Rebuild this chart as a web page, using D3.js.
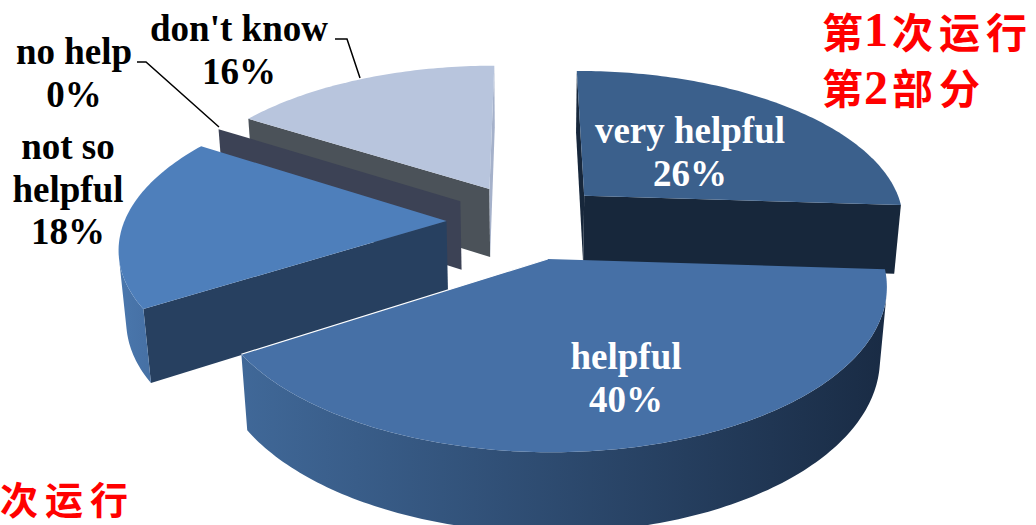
<!DOCTYPE html>
<html><head><meta charset="utf-8">
<script src="https://cdn.jsdelivr.net/npm/d3@7/dist/d3.min.js"></script>
<style>html,body{margin:0;padding:0;background:#fff;overflow:hidden}svg{display:block}
text{font-family:"Liberation Serif",serif;font-weight:700}
.cjk{font-family:"Noto Sans CJK SC",sans-serif;fill:#ff0000;font-weight:700}
.num{font-family:"Liberation Serif",serif;fill:#ff0000;font-weight:700}</style>
</head><body><svg id="c" width="1036" height="525"></svg>
<script>
// data
const categories = ["very helpful","helpful","not so helpful","no help","don't know"];
const shares = [26,40,18,0,16];
const pctLabels = ["26%","40%","18%","0%","16%"];
// styles per category
const topColors  = ["#3b608c","#4670a6","#4e7fbb","#3b4154","#b8c5dd"];
const wallColors = ["#17273b","#17273b","#274060","#3c4255","#4b5259"];
const endWallColors = ["#17273b","#17273b","#274060","#3c4255","#a5b1ca"];
const outerFrom  = ["#1d3450","#406898","#4a77ad","#3c4255","#aebcd6"];
const outerTo    = ["#1b2f4a","#192b44","#3f6596","#3c4255","#aebcd6"];
const labelColors= ["#fff","#fff","#000","#000","#000"];
const labelLines = [["very helpful"],["helpful"],["not so","helpful"],["no help"],["don't know"]];
const labelAt    = [[690,143],[626,369],[68,159],[74,64],[239,41]];
const leaders = [
  [[137,62],[146,62],[219,127]],
  [[335,39],[347,39],[360,78]]
];
const notes = [
  {t:"第",x:822,y:48,c:"cjk",fs:41},{t:"1",x:864,y:46,c:"num",fs:48},{t:"次运行",x:892,y:48,sp:6,c:"cjk",fs:41},
  {t:"第",x:822,y:104,c:"cjk",fs:41},{t:"2",x:864,y:104,c:"num",fs:48},{t:"部分",x:892,y:104,sp:6,c:"cjk",fs:41},
  {t:"次运行",x:0,y:514,sp:7,c:"cjk",fs:38}
];
// projection
const explode=0.25, persp=0.152, lower=0.0185, depth=71;
const sx=d3.scaleLinear().domain([-1,1]).range([-322,322]);
const sz=d3.scaleLinear().domain([-1,1]).range([-151,151]);
const cx=527, cy=221;
function project(X,Z,h){
  const w=1-persp*Z+lower*h;
  return [cx+sx(X)/w, cy+(sz(Z)+depth*h)/w];
}
const svg=d3.select("#c");
const defs=svg.append("defs");
const pie=d3.pie().sort(null).value(d=>d);
const arcs=pie(shares);
const line=d3.line();
const slices=arcs.map((a,i)=>{
  const mid=(a.startAngle+a.endAngle)/2;
  const ox=explode*Math.sin(mid), oz=-explode*Math.cos(mid);
  const n=Math.max(1,Math.round((a.endAngle-a.startAngle)/(Math.PI/180)));
  const ring=d3.range(n+1).map(k=>{
    const t=a.startAngle+(a.endAngle-a.startAngle)*k/n;
    return [ox+Math.sin(t),oz-Math.cos(t)];
  });
  return {i,ox,oz,ring};
});
slices.sort((p,q)=>project(p.ox,p.oz,0)[1]-project(q.ox,q.oz,0)[1]);
function area2(pts){let s=0;pts.forEach((p,k)=>{const q=pts[(k+1)%pts.length];s+=p[0]*q[1]-q[0]*p[1];});return s;}
function quad(P,Q){return [project(P[0],P[1],0),project(Q[0],Q[1],0),project(Q[0],Q[1],1),project(P[0],P[1],1)];}
slices.forEach(s=>{
  const g=svg.append("g").attr("class","slice");
  const apex=[s.ox,s.oz];
  const id="g"+s.i;
  const xs=s.ring.map(p=>project(p[0],p[1],0)[0]);
  const gr=defs.append("linearGradient").attr("id",id).attr("gradientUnits","userSpaceOnUse")
    .attr("x1",d3.min(xs)).attr("x2",d3.max(xs)).attr("y1",0).attr("y2",0);
  gr.append("stop").attr("offset",0).attr("stop-color",outerFrom[s.i]);
  gr.append("stop").attr("offset",1).attr("stop-color",outerTo[s.i]);
  // flat side walls
  [[apex,s.ring[0],wallColors[s.i]],[s.ring[s.ring.length-1],apex,endWallColors[s.i]]].forEach(([P,Q,col])=>{
    const q=quad(P,Q);
    if(area2(q)<0) g.append("path").attr("d",line(q)+"Z").attr("fill",col);
  });
  // rim: the forward-facing run of the ring as one shape
  const seen=d3.pairs(s.ring).filter(([P,Q])=>area2(quad(P,Q))<0);
  if(seen.length){
    const upper=[seen[0][0],...seen.map(d=>d[1])];
    const rim=[...upper.map(p=>project(p[0],p[1],0)),...upper.slice().reverse().map(p=>project(p[0],p[1],1))];
    g.append("path").attr("d",line(rim)+"Z").attr("fill",`url(#${id})`);
  }
  // top
  const top=[apex,...s.ring].map(p=>project(p[0],p[1],0));
  g.append("path").attr("d",line(top)+"Z").attr("fill",topColors[s.i]);
  // pale highlight along the leading edge of the nearest slice
  if(categories[s.i]==="helpful"){
    const e=[s.ring[s.ring.length-1],apex].map(p=>project(p[0],p[1],0));
    g.append("path").attr("d",line(e)).attr("fill","none").attr("stroke","#fff").attr("stroke-width",1.2);
  }
});
// leaders
svg.selectAll("path.leader").data(leaders).join("path").attr("class","leader")
  .attr("d",d=>line(d)).attr("fill","none").attr("stroke","#000").attr("stroke-width",1.5);
// labels
categories.forEach((c,i)=>{
  const t=svg.append("text").attr("text-anchor","middle").attr("font-size",37).attr("fill",labelColors[i]);
  const [x,y]=labelAt[i];
  [...labelLines[i],pctLabels[i]].forEach((s,k)=>{
    t.append("tspan").attr("x",x).attr("y",y+k*42.5).text(s);
  });
});
// notes
svg.selectAll("text.note").data(notes).join("text").attr("class",d=>"note "+d.c)
  .attr("x",d=>d.x).attr("y",d=>d.y).attr("font-size",d=>d.fs)
  .attr("letter-spacing",d=>d.sp||0).text(d=>d.t);
</script></body></html>
